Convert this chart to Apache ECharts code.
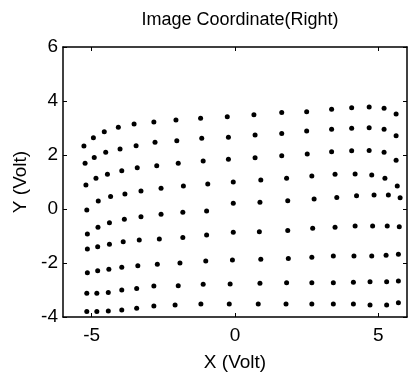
<!DOCTYPE html>
<html>
<head>
<meta charset="utf-8">
<script src="https://cdn.jsdelivr.net/npm/echarts@6/dist/echarts.min.js"></script>
<style>
html, body { margin: 0; padding: 0; background: #fff; }
#chart { width: 409px; height: 377px; }
</style>
</head>
<body>
<div id="chart"></div>
<script>
// image dots, read row by row (top to bottom), X and Y in volts
var rowX = [
    [-5.27, -4.94, -4.56, -4.07, -3.52, -2.83, -2.06, -1.20, -0.27, 0.66, 1.63, 2.50, 3.37, 4.07, 4.68, 5.20, 5.62],
    [-5.23, -4.91, -4.51, -4.01, -3.45, -2.79, -2.03, -1.16, -0.23, 0.70, 1.63, 2.50, 3.37, 4.07, 4.68, 5.20, 5.62],
    [-5.20, -4.85, -4.45, -3.95, -3.41, -2.73, -1.98, -1.11, -0.23, 0.70, 1.63, 2.52, 3.37, 4.07, 4.68, 5.20, 5.62],
    [-5.17, -4.77, -4.34, -3.84, -3.28, -2.58, -1.80, -0.95, -0.06, 0.90, 1.80, 2.68, 3.49, 4.19, 4.77, 5.23, 5.66],
    [-5.15, -4.78, -4.38, -3.86, -3.28, -2.58, -1.82, -0.99, -0.06, 0.87, 1.84, 2.76, 3.55, 4.24, 4.85, 5.35, 5.76],
    [-5.15, -4.79, -4.38, -3.90, -3.34, -2.64, -1.82, -0.99, -0.06, 0.85, 1.84, 2.71, 3.49, 4.19, 4.80, 5.31, 5.73],
    [-5.15, -4.79, -4.40, -3.95, -3.39, -2.71, -1.92, -1.02, -0.09, 0.90, 1.86, 2.68, 3.43, 4.15, 4.77, 5.27, 5.70],
    [-5.17, -4.82, -4.42, -3.95, -3.43, -2.83, -1.98, -1.11, -0.17, 0.87, 1.80, 2.68, 3.43, 4.13, 4.71, 5.29, 5.70],
    [-5.17, -4.82, -4.42, -3.95, -3.43, -2.83, -2.09, -1.19, -0.20, 0.81, 1.78, 2.68, 3.43, 4.13, 4.71, 5.29, 5.70]
];
var rowY = [
    [2.33, 2.64, 2.86, 3.03, 3.15, 3.22, 3.30, 3.36, 3.42, 3.49, 3.57, 3.60, 3.69, 3.75, 3.78, 3.73, 3.52],
    [1.69, 1.91, 2.10, 2.22, 2.34, 2.47, 2.53, 2.62, 2.66, 2.74, 2.80, 2.89, 2.95, 2.99, 3.01, 2.95, 2.71],
    [0.89, 1.14, 1.29, 1.42, 1.53, 1.60, 1.69, 1.78, 1.84, 1.90, 1.97, 2.04, 2.12, 2.16, 2.17, 2.10, 1.81],
    [-0.04, 0.30, 0.46, 0.56, 0.67, 0.77, 0.85, 0.93, 1.00, 1.07, 1.14, 1.22, 1.29, 1.30, 1.26, 1.14, 0.85],
    [-0.93, -0.68, -0.51, -0.38, -0.29, -0.19, -0.12, -0.07, 0.21, 0.25, 0.31, 0.37, 0.43, 0.49, 0.52, 0.52, 0.42],
    [-1.48, -1.40, -1.31, -1.21, -1.15, -1.11, -1.06, -0.96, -0.86, -0.84, -0.80, -0.71, -0.68, -0.63, -0.63, -0.63, -0.66],
    [-2.36, -2.29, -2.23, -2.16, -2.10, -2.05, -2.00, -1.93, -1.89, -1.86, -1.83, -1.79, -1.74, -1.74, -1.74, -1.71, -1.68],
    [-3.12, -3.12, -3.09, -3.00, -2.94, -2.85, -2.84, -2.79, -2.78, -2.75, -2.73, -2.73, -2.73, -2.71, -2.69, -2.69, -2.67],
    [-3.80, -3.80, -3.78, -3.74, -3.68, -3.59, -3.56, -3.52, -3.52, -3.52, -3.52, -3.52, -3.52, -3.52, -3.56, -3.56, -3.47]
];
var xTicks = [-5, 0, 5];

var points = [];
for (var r = 0; r < rowX.length; r++) {
    for (var c = 0; c < rowX[r].length; c++) {
        points.push([rowX[r][c], rowY[r][c]]);
    }
}

var font = "Liberation Sans, Arial, sans-serif";
var myChart = echarts.init(document.getElementById("chart"));

// box axis (no labels) for the top and right sides
function boxAxis(pos, extra) {
    var ax = {
        type: "value",
        position: pos,
        axisLine: { onZero: false, lineStyle: { color: "#000", width: 1.5 } },
        axisTick: { inside: true, length: 4, lineStyle: { color: "#000" } },
        axisLabel: { show: false },
        splitLine: { show: false }
    };
    for (var k in extra) ax[k] = extra[k];
    return ax;
}

var option = {
    animation: false,
    backgroundColor: "#fff",
    title: {
        text: "Image Coordinate(Right)",
        left: 235,
        top: 6,
        textAlign: "center",
        textStyle: { fontFamily: font, fontSize: 18, fontWeight: "normal", color: "#000" }
    },
    grid: { left: 63, right: 2, top: 47, bottom: 60 },
    xAxis: [
        {
            type: "value",
            position: "bottom",
            min: -6,
            max: 6,
            name: "X (Volt)",
            nameLocation: "middle",
            nameGap: 36,
            nameTextStyle: { fontFamily: font, fontSize: 19, color: "#000" },
            axisLine: { onZero: false, lineStyle: { color: "#000", width: 1.5 } },
            axisTick: { inside: true, length: 4, customValues: xTicks, lineStyle: { color: "#000" } },
            axisLabel: { customValues: xTicks, fontFamily: font, fontSize: 19, color: "#000", margin: 9 },
            splitLine: { show: false }
        },
        boxAxis("top", {
            min: -6,
            max: 6,
            axisTick: { inside: true, length: 4, customValues: xTicks, lineStyle: { color: "#000" } }
        })
    ],
    yAxis: [
        {
            type: "value",
            position: "left",
            min: -4,
            max: 6,
            interval: 2,
            name: "Y (Volt)",
            nameLocation: "middle",
            nameGap: 33,
            nameTextStyle: { fontFamily: font, fontSize: 19, color: "#000" },
            axisLine: { onZero: false, lineStyle: { color: "#000", width: 1.5 } },
            axisTick: { inside: true, length: 4, lineStyle: { color: "#000" } },
            axisLabel: { fontFamily: font, fontSize: 19, color: "#000", margin: 5 },
            splitLine: { show: false }
        },
        boxAxis("right", { min: -4, max: 6, interval: 2 })
    ],
    series: [
        {
            type: "scatter",
            data: points,
            symbol: "circle",
            symbolSize: 5,
            itemStyle: { color: "#000", opacity: 1 }
        }
    ]
};
myChart.setOption(option);
</script>
</body>
</html>
